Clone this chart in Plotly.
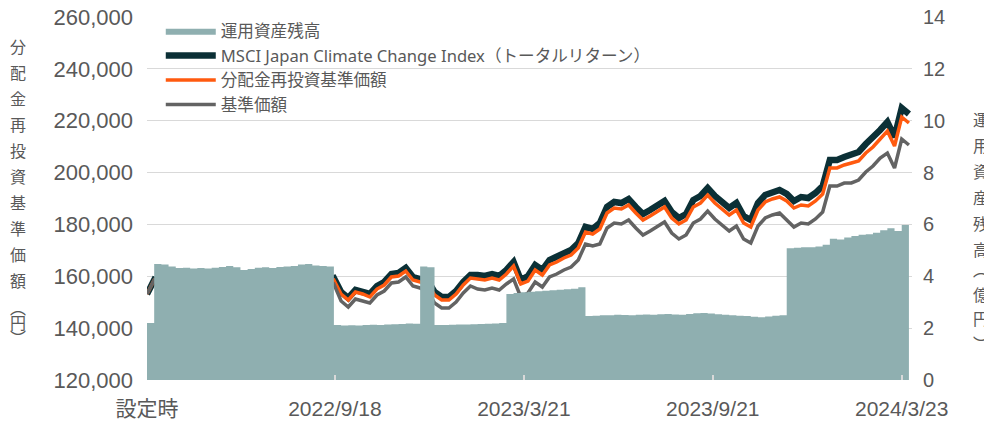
import pandas as pd
import plotly.graph_objects as go

# weekly observation dates from fund launch
dates = pd.date_range("2022-03-19", periods=107, freq="7D")

# MSCI Japan Climate Change Index (total return), rebased (yen)
msci = [153170, 158570, 157410, 153170, 152010, 153170, 152400, 153170, 150470, 152010,
        154330, 157020, 155100, 148540, 152010, 150850, 153170, 153550, 157020, 157800,
        158180, 161270, 161650, 159340, 156250, 158570, 159340, 153940, 151630, 154710,
        153940, 153170, 156250, 157800, 160880, 161270, 163200, 159720, 158950, 158570,
        153940, 152010, 152010, 154330, 157800, 160500, 160500, 160110, 160880, 160110,
        162420, 165510, 158570, 160110, 164350, 162420, 166280, 167440, 168980, 170140,
        172840, 179010, 178240, 180550, 186720, 188650, 188260, 189810, 186720, 184020,
        185560, 187110, 189040, 184790, 182480, 184020, 189420, 190960, 194050, 190960,
        188650, 186340, 188260, 183250, 181710, 188260, 191350, 192510, 193280, 191740,
        189040, 190580, 190190, 192120, 194820, 204850, 204850, 206000, 206780, 207930,
        211020, 213330, 216420, 219500, 213720, 224900, 222590]

# NAV with distributions reinvested (yen)
nav_reinv = [153170, 158570, 157410, 153170, 151620, 152780, 152010, 152780, 150080, 151620,
             153940, 156630, 154710, 147770, 151240, 150080, 152400, 152780, 156250, 157030,
             157410, 160500, 160880, 158570, 155480, 157800, 158570, 153170, 150860, 153940,
             153170, 152010, 155090, 156640, 159720, 160110, 162040, 158560, 157790, 157410,
             152780, 150850, 150850, 153170, 156640, 159340, 158960, 158570, 159340, 158570,
             160880, 163970, 157030, 158180, 162420, 160490, 164350, 165510, 167050, 168210,
             170910, 177080, 176310, 178240, 184410, 186340, 185950, 187500, 184410, 181710,
             183250, 184800, 186730, 182480, 180170, 181710, 186720, 188260, 191350, 188260,
             185950, 183640, 185560, 180550, 179010, 185560, 188650, 189810, 190580, 189040,
             186340, 187500, 187110, 189040, 191740, 201770, 201770, 202920, 203700, 204460,
             207550, 209860, 212950, 216030, 210250, 221430, 219120]

# NAV (yen)
nav = [153170, 158570, 157410, 153170, 150850, 152010, 151240, 152010, 149310, 150470,
       152790, 155480, 153560, 147000, 150470, 149310, 151630, 152010, 155480, 156260,
       156640, 158960, 159340, 157030, 153940, 156260, 157030, 150470, 148160, 151240,
       150470, 149700, 152780, 154330, 157410, 157800, 159730, 156250, 155480, 154330,
       149700, 147770, 147770, 150090, 153560, 156260, 155100, 154710, 155480, 154710,
       157020, 158950, 152010, 153550, 157790, 155860, 159720, 160880, 162420, 163580,
       166280, 172450, 171680, 172450, 178620, 180550, 180160, 181710, 178620, 175920,
       177460, 179010, 180940, 176690, 174380, 175920, 180550, 182090, 185180, 182090,
       179780, 177470, 179390, 174380, 172840, 179390, 182480, 183640, 184410, 181710,
       179010, 180550, 180160, 182090, 184790, 194820, 194820, 195970, 195980, 197130,
       200220, 202530, 205620, 207540, 201760, 212940, 210630]

# Net assets (100 million yen)
assets = [2.20, 4.47, 4.45, 4.38, 4.32, 4.33, 4.30, 4.32, 4.30, 4.33,
          4.36, 4.40, 4.35, 4.24, 4.28, 4.33, 4.35, 4.32, 4.36, 4.38,
          4.40, 4.45, 4.47, 4.42, 4.40, 4.38, 2.12, 2.10, 2.11, 2.10,
          2.12, 2.13, 2.12, 2.14, 2.15, 2.16, 2.18, 2.17, 4.38, 4.35,
          2.12, 2.12, 2.13, 2.14, 2.14, 2.15, 2.16, 2.17, 2.18, 2.20,
          3.32, 3.36, 3.38, 3.40, 3.42, 3.44, 3.46, 3.48, 3.50, 3.52,
          3.58, 2.47, 2.48, 2.50, 2.50, 2.52, 2.51, 2.50, 2.52, 2.53,
          2.52, 2.54, 2.55, 2.53, 2.52, 2.55, 2.57, 2.58, 2.56, 2.54,
          2.52, 2.50, 2.48, 2.47, 2.44, 2.42, 2.45, 2.48, 2.50, 5.08,
          5.10, 5.12, 5.12, 5.15, 5.22, 5.45, 5.42, 5.50, 5.55, 5.60,
          5.62, 5.68, 5.78, 5.85, 5.75, 5.98, 5.95]

tick_dates = ["2022-03-19", "2022-09-18", "2023-03-21", "2023-09-21", "2024-03-23"]
tick_text = ["設定時", "2022/9/18", "2023/3/21", "2023/9/21", "2024/3/23"]

names = ["運用資産残高", "MSCI Japan Climate Change Index（トータルリターン）",
         "分配金再投資基準価額", "基準価額"]

left_title = "分配金再投資基準価額"
right_title = "運用資産残高"

TXT = "#595959"
FONT = "Liberation Sans, Noto Sans CJK JP, sans-serif"
LEGFONT = "Noto Sans, Noto Sans CJK JP, sans-serif"

fig = go.Figure()
fig.add_trace(go.Scatter(x=dates, y=assets, name=names[0], yaxis="y2",
                         mode="lines", line=dict(width=0, shape="hv", color="#8FAFB0"),
                         fill="tozeroy", fillcolor="#8FAFB0"))
fig.add_trace(go.Scatter(x=dates, y=msci, name=names[1], mode="lines",
                         line=dict(color="#0B3036", width=6.5)))
fig.add_trace(go.Scatter(x=dates, y=nav_reinv, name=names[2], mode="lines",
                         line=dict(color="#FF5A0F", width=3.5)))
fig.add_trace(go.Scatter(x=dates, y=nav, name=names[3], mode="lines",
                         line=dict(color="#636363", width=3.5)))

def vert(chars, inner):
    return "<br>".join(f'<span style="font-size:{inner}px">{c}</span>' for c in chars)

annotations = [
    dict(text=vert(left_title, 16), xref="paper", yref="paper", x=-0.1686, y=0.945,
         xanchor="center", yanchor="top", showarrow=False, align="center",
         font=dict(size=20, color=TXT, family=FONT)),
    dict(text=vert("︵円︶", 16), xref="paper", yref="paper", x=-0.1686, y=0.226,
         xanchor="center", yanchor="top", showarrow=False, align="center",
         font=dict(size=11.5, color=TXT, family=FONT)),
    dict(text=vert(right_title, 16), xref="paper", yref="paper", x=1.090, y=0.745,
         xanchor="center", yanchor="top", showarrow=False, align="center",
         font=dict(size=20, color=TXT, family=FONT)),
    dict(text=vert("︵億円︶", 16), xref="paper", yref="paper", x=1.090, y=0.33,
         xanchor="center", yanchor="top", showarrow=False, align="center",
         font=dict(size=19, color=TXT, family=FONT)),
]

fig.update_layout(
    width=984, height=421,
    margin=dict(l=147, r=72, t=17, b=41, autoexpand=False),
    paper_bgcolor="white", plot_bgcolor="white",
    font=dict(family=FONT, color=TXT, size=18),
    showlegend=True,
    legend=dict(x=0.018, y=1.0095, xanchor="left", yanchor="top", bgcolor="rgba(0,0,0,0)",
                font=dict(size=16.6, color=TXT, family=LEGFONT), tracegroupgap=0,
                itemwidth=50),
    xaxis=dict(type="date", range=["2022-03-19", "2024-04-02"], tickmode="array",
               tickvals=tick_dates, ticktext=tick_text, showgrid=False,
               ticks="inside", ticklen=5, tickcolor="#D9D9D9", tickwidth=1.5,
               showline=False, zeroline=False, tickfont=dict(size=21, color=TXT),
               ticklabelstandoff=14),
    yaxis=dict(range=[120000, 260000], dtick=20000, tickformat=",d",
               showgrid=True, gridcolor="#D9D9D9", gridwidth=1.2, zeroline=False,
               showline=False, tickfont=dict(size=22, color=TXT), ticklabelstandoff=13),
    yaxis2=dict(range=[0, 14], dtick=2, overlaying="y", side="right", showgrid=False,
                zeroline=False, showline=False, tickfont=dict(size=20, color=TXT),
                ticklabelstandoff=10),
    annotations=annotations,
)

fig.write_html("out.html", post_script="document.body.style.margin='0px';",
               config={"displayModeBar": False})
